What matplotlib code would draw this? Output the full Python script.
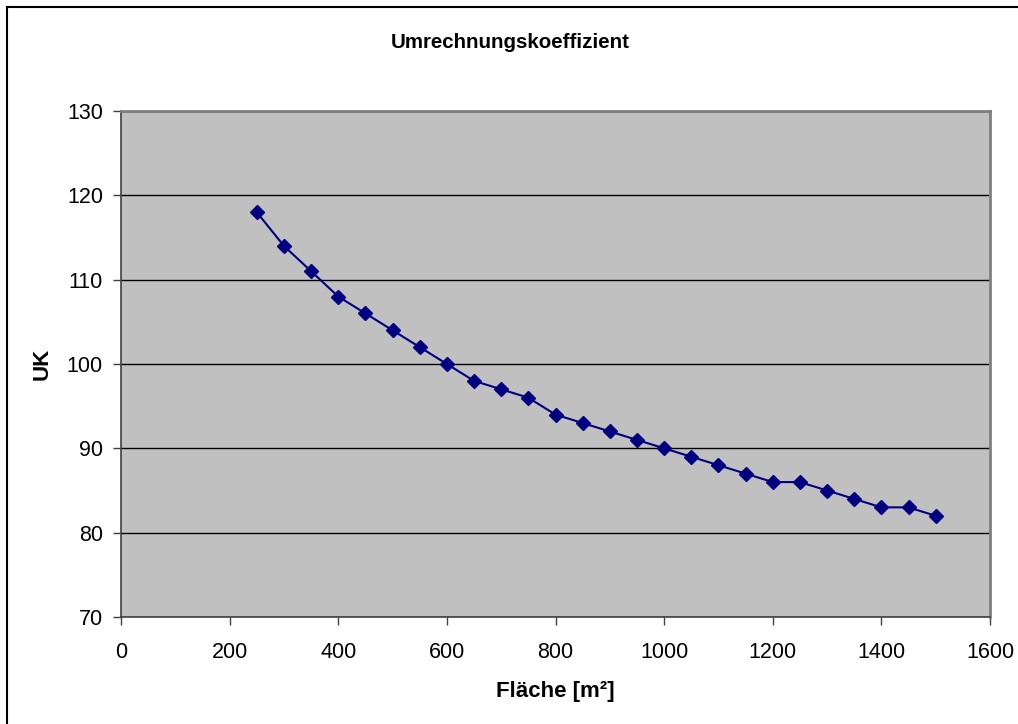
import matplotlib
matplotlib.use("Agg")
import matplotlib.pyplot as plt
from matplotlib.lines import Line2D
from matplotlib.ticker import MultipleLocator

plt.rcParams['font.family'] = ['Liberation Sans', 'DejaVu Sans']

flaeche = [250, 300, 350, 400, 450, 500, 550, 600, 650, 700, 750, 800, 850,
           900, 950, 1000, 1050, 1100, 1150, 1200, 1250, 1300, 1350, 1400, 1450, 1500]
uk = [118, 114, 111, 108, 106, 104, 102, 100, 98, 97, 96, 94, 93,
      92, 91, 90, 89, 88, 87, 86, 86, 85, 84, 83, 83, 82]

title = "Umrechnungskoeffizient"
xlabel = "Fläche [m²]"
ylabel = "UK"

W, H = 1018, 724
fig = plt.figure(figsize=(W / 100, H / 100), dpi=100)
fig.patch.set_facecolor("white")

ax = fig.add_axes([121 / W, 1 - 617 / H, (990 - 121) / W, (617 - 111) / H])
ax.set_facecolor("#C0C0C0")
ax.set_xlim(0, 1600)
ax.set_ylim(70, 130)
ax.xaxis.set_major_locator(MultipleLocator(200))
ax.yaxis.set_major_locator(MultipleLocator(10))
ax.grid(axis="y", color="black", linewidth=1.0)
ax.set_axisbelow(True)

ax.plot(flaeche, uk, color="#000080", linewidth=1.5, marker="D",
        markersize=7.5, markerfacecolor="#000080", markeredgecolor="#000080",
        zorder=3)

for s in ["top", "right"]:
    ax.spines[s].set_color("#808080")
    ax.spines[s].set_linewidth(2)
for s in ["left", "bottom"]:
    ax.spines[s].set_color("#404040")
    ax.spines[s].set_linewidth(1.2)

ax.tick_params(direction="out", length=6, width=1, color="#404040",
               labelsize=15.5)
ax.tick_params(axis="x", pad=12)
ax.tick_params(axis="y", pad=7)

ax.set_xlabel(xlabel, fontsize=16, fontweight="bold", labelpad=13)
ax.set_ylabel(ylabel, fontsize=16, fontweight="bold", labelpad=10)
fig.text(510 / W, 1 - 43 / H, title, ha="center", va="center",
         fontsize=14.8, fontweight="bold")

# outer chart border (top and left visible)
fig.add_artist(Line2D([7 / W, 1.0], [1 - 7 / H, 1 - 7 / H], color="black",
                      linewidth=1.5, transform=fig.transFigure))
fig.add_artist(Line2D([7 / W, 7 / W], [1 - 7 / H, 0.0], color="black",
                      linewidth=1.5, transform=fig.transFigure))

fig.savefig("out.png", dpi=100)
